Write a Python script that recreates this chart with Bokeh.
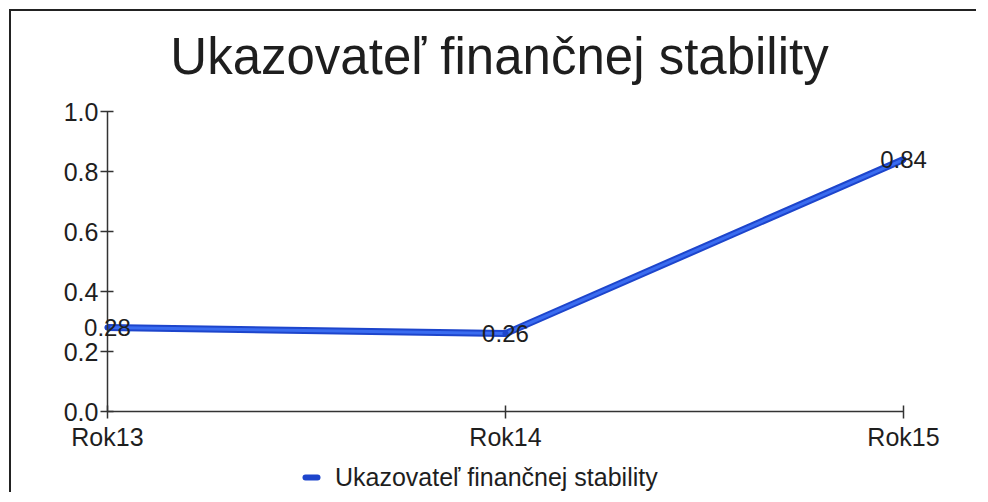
from bokeh.plotting import figure
from bokeh.models import (ColumnDataSource, Range1d, FixedTicker, LabelSet,
                          Legend, LegendItem, Title, PrintfTickFormatter)
from bokeh.core.properties import value
from bokeh.embed import file_html
from bokeh.resources import INLINE

# ---- data ----
categories = ["Rok13", "Rok14", "Rok15"]
values = [0.28, 0.26, 0.84]
y_ticks = [0.0, 0.2, 0.4, 0.6, 0.8, 1.0]
title_text = "Ukazovateľ finančnej stability"
series_name = "Ukazovateľ finančnej stability"

FONT = "Liberation Sans"
TXT = "#1e1e1e"
LINE_DARK = "#1d45cc"
LINE_LIGHT = "#3a6cf0"

xs = list(range(len(categories)))
src = ColumnDataSource(dict(x=xs, y=values, lbl=[f"{v:.2f}" for v in values]))

p = figure(width=967, height=483, output_backend="svg", toolbar_location=None,
           x_range=Range1d(-0.123, len(categories) - 1 + 0.093),
           y_range=Range1d(-0.276, 1.04),
           min_border_left=47, min_border_right=38, min_border_top=87,
           min_border_bottom=0, background_fill_color="white",
           border_fill_color="white")
p.styles = {"margin-left": "9px", "margin-top": "9px",
            "border-left": "2px solid #222", "border-top": "2px solid #222"}
p.outline_line_color = None
p.grid.visible = False

t = Title(text=title_text, align="center", text_font=FONT,
          text_font_size="51px", text_font_style="normal", text_color=TXT,
          standoff=29, offset=-10)
p.add_layout(t, "above")

# axes (crossing at the origin)
p.xaxis.ticker = FixedTicker(ticks=xs)
p.xaxis.major_label_overrides = {i: c for i, c in enumerate(categories)}
p.xaxis.bounds = (0, len(categories) - 1)
p.xaxis.fixed_location = 0
p.yaxis.ticker = FixedTicker(ticks=y_ticks)
p.yaxis.formatter = PrintfTickFormatter(format="%.1f")
p.yaxis.bounds = (0, 1)
p.yaxis.fixed_location = 0
for ax in (p.xaxis[0], p.yaxis[0]):
    ax.axis_line_color = "#333333"
    ax.axis_line_width = 1.5
    ax.major_tick_line_color = "#333333"
    ax.major_tick_line_width = 1.5
    ax.major_tick_in = 6
    ax.major_tick_out = 7
    ax.minor_tick_line_color = None
    ax.major_label_text_font = FONT
    ax.major_label_text_font_size = "25px"
    ax.major_label_text_color = TXT
p.yaxis.major_label_standoff = 2
p.xaxis.major_label_standoff = 4

# line (darker rim + lighter core)
p.line("x", "y", source=src, line_color=LINE_DARK, line_width=7)
p.line("x", "y", source=src, line_color=LINE_LIGHT, line_width=3)

# legend helper glyph (hidden under line vertices)
r_leg = p.scatter("x", "y", source=src, marker="dash", size=0,
                  line_color=LINE_DARK, line_width=6, line_cap="round")

labels = LabelSet(x="x", y="y", text="lbl", source=src, text_align="center",
                  text_baseline="middle", text_font=value(FONT),
                  text_font_size=value("24px"), text_color=TXT)
p.add_layout(labels)

legend = Legend(items=[LegendItem(label=series_name, renderers=[r_leg])],
                location=(238, 0), orientation="horizontal",
                glyph_width=30, glyph_height=34, label_standoff=9,
                padding=0, margin=0, spacing=0,
                background_fill_alpha=0, border_line_color=None,
                label_text_font=FONT, label_text_font_size="25px",
                label_text_color=TXT)
p.add_layout(legend, "center")

open("out.html", "w").write(file_html(p, INLINE))
